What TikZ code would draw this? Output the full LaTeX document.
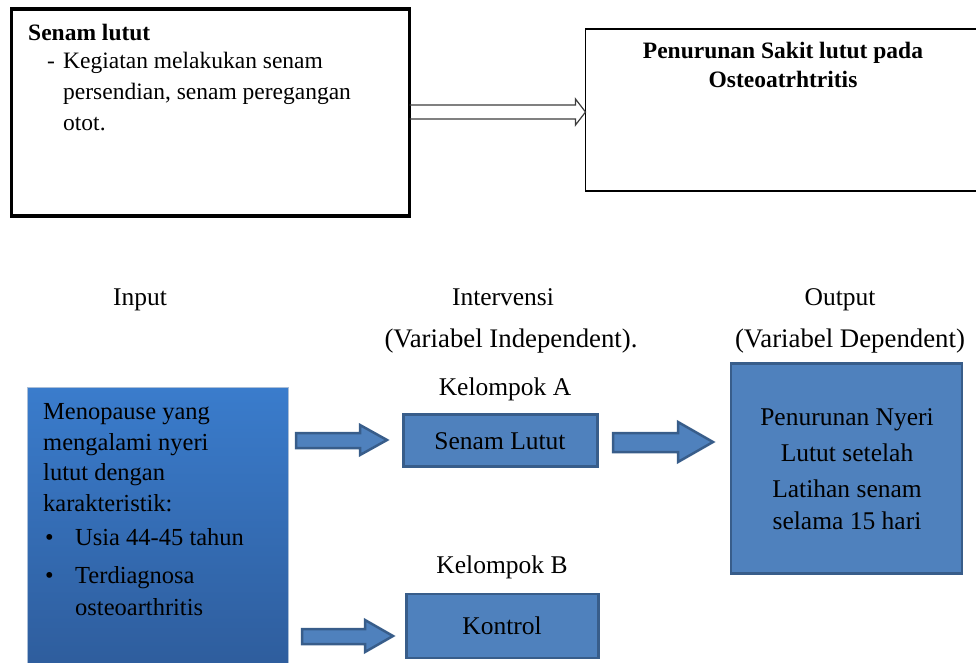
\documentclass[tikz,border=0pt]{standalone}
\usepackage{fontspec}
\setmainfont{Liberation Serif}
\definecolor{boxblue}{HTML}{4F81BD}
\definecolor{boxedge}{HTML}{385D8A}
\definecolor{gradtop}{RGB}{58,124,204}
\definecolor{gradbot}{RGB}{46,92,155}
\definecolor{inedge}{RGB}{170,190,215}
\definecolor{hollow}{RGB}{60,60,60}
\tikzset{
  plainbox/.style={draw=black, fill=white, inner sep=0, outer sep=0, anchor=north west},
  bluebox/.style={draw=boxedge, fill=boxblue, line width=2.5pt, inner sep=0, outer sep=0, anchor=north west},
  toptxt/.style={font=\fontsize{23.5}{28}\selectfont, inner sep=0, anchor=base west},
  topbold/.style={font=\bfseries\fontsize{23.5}{28}\selectfont, inner sep=0, anchor=base},
  lbl/.style={font=\fontsize{25.5}{30}\selectfont, inner sep=0, anchor=base},
  vlbl/.style={font=\fontsize{26.8}{30}\selectfont, inner sep=0, anchor=base},
  intxt/.style={font=\fontsize{24.5}{30}\selectfont, inner sep=0, anchor=base west},
  barrow/.style={draw=boxedge, fill=boxblue, line width=2.5pt, line join=miter},
  hollowarrow/.style={draw=hollow, line width=1.2pt, line join=miter}
}
\begin{document}
\begin{tikzpicture}[x=1pt,y=-1pt]
\useasboundingbox (0,0) rectangle (976,662);
% top boxes
\node[plainbox, line width=3.5pt, minimum width=398pt, minimum height=207pt] (tl) at (11.5,9) {};
\node[plainbox, line width=1.3pt, minimum width=400pt, minimum height=162pt] (tr) at (585.5,29) {};
\node[font=\bfseries\fontsize{23.5}{28}\selectfont, inner sep=0, anchor=base west] (t1) at (28,40) {Senam lutut};
\node[toptxt] (t2) at (47,68) {-};
\node[toptxt] (t3) at (63,68) {Kegiatan melakukan senam};
\node[toptxt] (t4) at (63,99) {persendian, senam peregangan};
\node[toptxt] (t5) at (63,130) {otot.};
\node[topbold] (r1) at (783,58) {Penurunan Sakit lutut pada};
\node[topbold] (r2) at (783,87) {Osteoatrhtritis};
% hollow double arrow
\coordinate (ha) at (tl.east |- 0,112);
\coordinate (hb) at (tr.west |- 0,112);
\draw[hollowarrow] ([yshift=-7pt]ha) -- ([xshift=-10pt,yshift=-7pt]hb) -- ([xshift=-10pt,yshift=-13pt]hb) -- (hb)
  -- ([xshift=-10pt,yshift=13pt]hb) -- ([xshift=-10pt,yshift=7pt]hb) -- ([yshift=7pt]ha);
% labels
\node[lbl] (lin) at (140,305) {Input};
\node[lbl] (lint) at (503,305) {Intervensi};
\node[vlbl] (lvi) at (511,347) {(Variabel Independent).};
\node[lbl] (lout) at (840,305) {Output};
\node[vlbl] (lvd) at (850,347) {(Variabel Dependent)};
\node[lbl] (lka) at (505,395) {Kelompok A};
\node[lbl] (lkb) at (502,573) {Kelompok B};
% input box
\node[draw=inedge, line width=0.8pt, top color=gradtop, bottom color=gradbot, inner sep=0, outer sep=0,
      anchor=north west, minimum width=261pt, minimum height=290pt] (inp) at (27.5,387.5) {};
\node[intxt] (i1) at (43,419) {Menopause yang};
\node[intxt] (i2) at (43,450) {mengalami nyeri};
\node[intxt] (i3) at (43,480) {lutut dengan};
\node[intxt] (i4) at (43,511) {karakteristik:};
\node[intxt] (b1) at (45,545) {\textbullet};
\node[intxt] (i5) at (75,545) {Usia 44-45 tahun};
\node[intxt] (b2) at (45,583) {\textbullet};
\node[intxt] (i6) at (75,583) {Terdiagnosa};
\node[intxt] (i7) at (75,615) {osteoarthritis};
% blue boxes
\node[bluebox, minimum width=194pt, minimum height=52pt] (sl) at (403.5,414.5) {};
\node[lbl] at (500,449) {Senam Lutut};
\node[bluebox, minimum width=192pt, minimum height=64pt] (kon) at (406.5,594) {};
\node[lbl] at (502,634) {Kontrol};
\node[bluebox, minimum width=231pt, minimum height=210pt] (out) at (731,363.5) {};
\node[lbl] at (847,425) {Penurunan Nyeri};
\node[lbl] at (847,461) {Lutut setelah};
\node[lbl] at (847,497) {Latihan senam};
\node[lbl] at (847,529) {selama 15 hari};
% block arrows
\draw[barrow] (296,433) -- (360,433) -- (360,425) -- (387,440) -- (360,455) -- (360,448) -- (296,448) -- cycle;
\draw[barrow] (613,433) -- (678,433) -- (678,422) -- (713,442) -- (678,462) -- (678,452) -- (613,452) -- cycle;
\draw[barrow] (302,629) -- (365,629) -- (365,620) -- (393,636) -- (365,652) -- (365,644) -- (302,644) -- cycle;
\end{tikzpicture}
\end{document}
